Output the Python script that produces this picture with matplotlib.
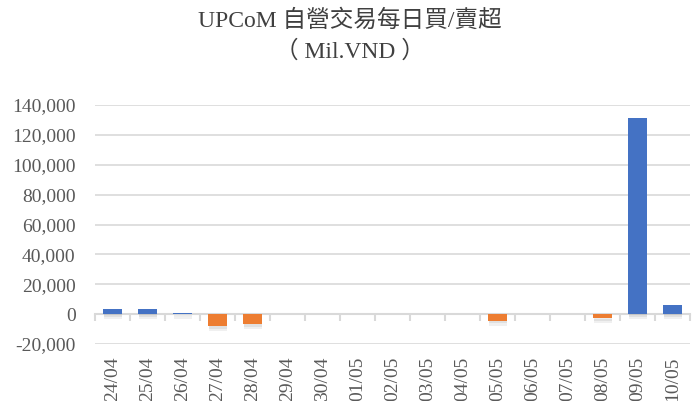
import matplotlib.pyplot as plt
import matplotlib.patheffects as pe
import numpy as np

dates = ["24/04", "25/04", "26/04", "27/04", "28/04", "29/04", "30/04",
         "01/05", "02/05", "03/05", "04/05", "05/05", "06/05", "07/05",
         "08/05", "09/05", "10/05"]
net_value = [3100, 3200, 1000, -8000, -6700, 0, 0,
             0, 0, 0, -100, -4400, 0, 0,
             -2700, 131000, 5900]

BLUE = "#4472C4"
ORANGE = "#ED7D31"
GRAY_TXT = "#595959"
GRID = "#D9D9D9"

plt.rcParams["font.family"] = ["Liberation Serif", "Noto Sans CJK TC"]

fig = plt.figure(figsize=(7, 4.01), dpi=100)
ax = fig.add_axes([95 / 700, 1 - 344 / 401, 595 / 700, 239 / 401])

x = np.arange(len(dates))
colors = [BLUE if v >= 0 else ORANGE for v in net_value]
bars = ax.bar(x, net_value, width=0.52, color=colors, zorder=3)
# soft drop shadow, roughly like the Excel one
for b in bars:
    b.set_path_effects([
        pe.SimplePatchShadow(offset=(0.5, -3.5), shadow_rgbFace="#888888", alpha=0.12),
        pe.SimplePatchShadow(offset=(0.5, -2), shadow_rgbFace="#888888", alpha=0.15),
        pe.Normal()])

ax.set_xlim(-0.5, len(dates) - 0.5)
ax.set_ylim(-20000, 140000)
yt = np.arange(-20000, 140001, 20000)
ax.set_yticks(yt)
ax.set_yticklabels([f"{v:,}" for v in yt], fontsize=14, color=GRAY_TXT)
ax.yaxis.grid(True, color=GRID, linewidth=1.2, zorder=0)
ax.tick_params(axis="y", length=0, pad=14)

# zero axis line with category boundary ticks
for s in ["left", "right", "top"]:
    ax.spines[s].set_visible(False)
ax.spines["bottom"].set_position(("data", 0))
ax.spines["bottom"].set_color(GRID)
ax.spines["bottom"].set_linewidth(1.5)
ax.spines["bottom"].set_zorder(2)
ax.set_xticks(x)
ax.set_xticklabels([])
ax.tick_params(axis="x", which="major", length=0)
ax.set_xticks(np.arange(-0.5, len(dates)), minor=True)
ax.tick_params(axis="x", which="minor", length=5, width=1.5, color=GRID, direction="out")

# category labels at the bottom of the plot area
sec = ax.secondary_xaxis(0)
sec.set_xticks(x)
sec.set_xticklabels(dates, rotation=90, fontsize=14, color=GRAY_TXT)
sec.tick_params(length=0, pad=9)
sec.spines["bottom"].set_visible(False)

fig.text(0.5, 1 - 21 / 401, "UPCoM 自營交易每日買/賣超", ha="center", va="center",
         fontsize=17, color="#404040")
fig.text(0.5, 1 - 52 / 401, "（ Mil.VND ）", ha="center", va="center",
         fontsize=17, color="#404040")

fig.savefig("out.png", dpi=100)
